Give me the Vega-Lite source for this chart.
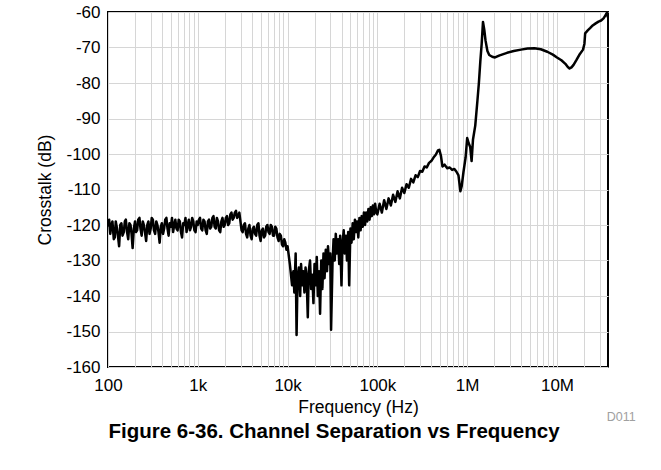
{
  "$schema": "https://vega.github.io/schema/vega-lite/v6.json",
  "width": 500,
  "height": 355,
  "autosize": {"type": "none"},
  "padding": {"left": 108, "top": 12, "right": 53, "bottom": 103},
  "background": "white",
  "config": {
    "font": "Liberation Sans",
    "view": {"stroke": "black", "strokeWidth": 2},
    "axis": {"gridColor": "#d6d6d6", "gridWidth": 1, "domain": false, "ticks": false, "labelColor": "black", "titleColor": "black", "labelFont": "Liberation Sans", "titleFont": "Liberation Sans", "titleFontWeight": "normal", "labelOverlap": false, "labelBound": false}
  },
  "title": {
    "text": "Figure 6-36. Channel Separation vs Frequency",
    "orient": "bottom",
    "anchor": "middle",
    "frame": "group",
    "fontSize": 20.5,
    "fontWeight": "bold",
    "font": "Liberation Sans",
    "color": "black",
    "dx": -24,
    "offset": -1
  },
  "data": {
    "values": [
      {"f": 100, "db": -120.5}, {"f": 103, "db": -118.5}, {"f": 106, "db": -122.5}, {"f": 109, "db": -120},
      {"f": 112, "db": -119}, {"f": 116, "db": -124}, {"f": 119, "db": -123.5}, {"f": 122, "db": -119},
      {"f": 126, "db": -121}, {"f": 129, "db": -123}, {"f": 133, "db": -126}, {"f": 137, "db": -120},
      {"f": 141, "db": -119.5}, {"f": 145, "db": -123}, {"f": 150, "db": -122}, {"f": 154, "db": -119},
      {"f": 158, "db": -118.5}, {"f": 163, "db": -122}, {"f": 168, "db": -124}, {"f": 173, "db": -119.5},
      {"f": 178, "db": -120}, {"f": 183, "db": -122.5}, {"f": 188, "db": -126.5}, {"f": 194, "db": -121},
      {"f": 200, "db": -119}, {"f": 205, "db": -122}, {"f": 211, "db": -121.5}, {"f": 217, "db": -118.5},
      {"f": 224, "db": -118}, {"f": 230, "db": -121}, {"f": 237, "db": -123}, {"f": 244, "db": -119},
      {"f": 251, "db": -120}, {"f": 258, "db": -122}, {"f": 266, "db": -124.5}, {"f": 274, "db": -120},
      {"f": 282, "db": -119}, {"f": 290, "db": -122.5}, {"f": 299, "db": -121}, {"f": 307, "db": -118},
      {"f": 316, "db": -118.5}, {"f": 325, "db": -121.5}, {"f": 335, "db": -122.5}, {"f": 345, "db": -119},
      {"f": 355, "db": -120}, {"f": 365, "db": -122}, {"f": 376, "db": -125}, {"f": 387, "db": -120.5},
      {"f": 398, "db": -119.5}, {"f": 410, "db": -122.5}, {"f": 422, "db": -121}, {"f": 434, "db": -118.5},
      {"f": 447, "db": -118}, {"f": 460, "db": -121}, {"f": 473, "db": -123}, {"f": 487, "db": -119.5},
      {"f": 501, "db": -120.5}, {"f": 516, "db": -118}, {"f": 531, "db": -122}, {"f": 546, "db": -120},
      {"f": 562, "db": -118.5}, {"f": 579, "db": -121}, {"f": 596, "db": -121.5}, {"f": 613, "db": -118.5},
      {"f": 631, "db": -119}, {"f": 649, "db": -122}, {"f": 668, "db": -123.5}, {"f": 688, "db": -119.5},
      {"f": 708, "db": -120}, {"f": 729, "db": -118}, {"f": 750, "db": -122}, {"f": 772, "db": -120},
      {"f": 794, "db": -118.5}, {"f": 818, "db": -121.5}, {"f": 841, "db": -120.5}, {"f": 866, "db": -118},
      {"f": 891, "db": -119}, {"f": 917, "db": -121.5}, {"f": 944, "db": -122}, {"f": 972, "db": -119},
      {"f": 1000, "db": -120}, {"f": 1029, "db": -118.5}, {"f": 1059, "db": -118}, {"f": 1090, "db": -121},
      {"f": 1122, "db": -121.5}, {"f": 1155, "db": -118.5}, {"f": 1189, "db": -119}, {"f": 1223, "db": -121.5},
      {"f": 1259, "db": -122.5}, {"f": 1296, "db": -119}, {"f": 1334, "db": -118.5}, {"f": 1372, "db": -121},
      {"f": 1413, "db": -120.5}, {"f": 1454, "db": -118}, {"f": 1496, "db": -117.5}, {"f": 1540, "db": -120.5},
      {"f": 1585, "db": -121}, {"f": 1631, "db": -118}, {"f": 1679, "db": -119}, {"f": 1728, "db": -121.5},
      {"f": 1778, "db": -122}, {"f": 1830, "db": -119}, {"f": 1884, "db": -118}, {"f": 1939, "db": -120.5},
      {"f": 1995, "db": -120}, {"f": 2053, "db": -118}, {"f": 2113, "db": -117.5}, {"f": 2175, "db": -120},
      {"f": 2239, "db": -119.5}, {"f": 2304, "db": -117}, {"f": 2371, "db": -116.5}, {"f": 2441, "db": -118.5},
      {"f": 2512, "db": -118}, {"f": 2585, "db": -116.5}, {"f": 2661, "db": -116}, {"f": 2738, "db": -118},
      {"f": 2818, "db": -117.5}, {"f": 2901, "db": -116.5}, {"f": 2985, "db": -119}, {"f": 3073, "db": -121.5},
      {"f": 3162, "db": -122}, {"f": 3255, "db": -120}, {"f": 3350, "db": -119.5}, {"f": 3447, "db": -122.5},
      {"f": 3548, "db": -123.5}, {"f": 3652, "db": -121}, {"f": 3758, "db": -120}, {"f": 3868, "db": -123},
      {"f": 3981, "db": -124}, {"f": 4097, "db": -121}, {"f": 4217, "db": -120.5}, {"f": 4340, "db": -122.5},
      {"f": 4467, "db": -123}, {"f": 4597, "db": -120}, {"f": 4732, "db": -119.5}, {"f": 4870, "db": -123},
      {"f": 5012, "db": -124.5}, {"f": 5158, "db": -121.5}, {"f": 5309, "db": -121}, {"f": 5464, "db": -123.5},
      {"f": 5623, "db": -123}, {"f": 5788, "db": -120.5}, {"f": 5957, "db": -120}, {"f": 6131, "db": -122},
      {"f": 6310, "db": -122.5}, {"f": 6494, "db": -120}, {"f": 6683, "db": -120.5}, {"f": 6879, "db": -123},
      {"f": 7079, "db": -123}, {"f": 7286, "db": -120.5}, {"f": 7499, "db": -121}, {"f": 7718, "db": -123.5},
      {"f": 7943, "db": -124.5}, {"f": 8175, "db": -122.5}, {"f": 8414, "db": -123}, {"f": 8660, "db": -125.5},
      {"f": 8913, "db": -126}, {"f": 9173, "db": -124}, {"f": 9441, "db": -125}, {"f": 9716, "db": -127},
      {"f": 10000, "db": -126}, {"f": 10593, "db": -131}, {"f": 11220, "db": -137}, {"f": 11600, "db": -133},
      {"f": 11885, "db": -139}, {"f": 12300, "db": -128}, {"f": 12589, "db": -151}, {"f": 12900, "db": -135},
      {"f": 13335, "db": -132}, {"f": 13800, "db": -140}, {"f": 14125, "db": -131}, {"f": 14600, "db": -137},
      {"f": 14962, "db": -133}, {"f": 15400, "db": -139}, {"f": 15849, "db": -132}, {"f": 16300, "db": -135},
      {"f": 16788, "db": -146}, {"f": 17200, "db": -133}, {"f": 17783, "db": -130}, {"f": 18300, "db": -138},
      {"f": 18836, "db": -134}, {"f": 19400, "db": -142}, {"f": 19953, "db": -131}, {"f": 20500, "db": -137},
      {"f": 21135, "db": -129}, {"f": 21700, "db": -140}, {"f": 22387, "db": -133}, {"f": 23000, "db": -145},
      {"f": 23714, "db": -130}, {"f": 24400, "db": -138}, {"f": 25119, "db": -128}, {"f": 25800, "db": -135},
      {"f": 26607, "db": -127}, {"f": 27500, "db": -133}, {"f": 28184, "db": -126}, {"f": 29000, "db": -131},
      {"f": 29854, "db": -128}, {"f": 30500, "db": -149.5}, {"f": 31623, "db": -131}, {"f": 32500, "db": -124},
      {"f": 33497, "db": -130}, {"f": 34400, "db": -122.5}, {"f": 35481, "db": -128}, {"f": 36500, "db": -124},
      {"f": 37584, "db": -131}, {"f": 38500, "db": -123}, {"f": 39811, "db": -137}, {"f": 40900, "db": -125},
      {"f": 42170, "db": -121.5}, {"f": 43300, "db": -128}, {"f": 44668, "db": -123}, {"f": 45800, "db": -130},
      {"f": 47315, "db": -122}, {"f": 48500, "db": -137}, {"f": 50119, "db": -121}, {"f": 51500, "db": -125},
      {"f": 53088, "db": -119.5}, {"f": 54600, "db": -124}, {"f": 56234, "db": -118.5}, {"f": 57900, "db": -122},
      {"f": 59566, "db": -119}, {"f": 61300, "db": -123.5}, {"f": 63096, "db": -118}, {"f": 65000, "db": -121.5},
      {"f": 66834, "db": -117.5}, {"f": 68800, "db": -120.5}, {"f": 70795, "db": -116.5}, {"f": 72900, "db": -120},
      {"f": 74989, "db": -116.5}, {"f": 77200, "db": -119}, {"f": 79433, "db": -115.5}, {"f": 81800, "db": -118.5},
      {"f": 84140, "db": -115}, {"f": 86600, "db": -117.5}, {"f": 89125, "db": -114.5}, {"f": 91700, "db": -117},
      {"f": 94406, "db": -114}, {"f": 97200, "db": -116.5},
      {"f": 100000, "db": -117}, {"f": 105925, "db": -114}, {"f": 112202, "db": -116.5}, {"f": 118850, "db": -113},
      {"f": 125893, "db": -115.5}, {"f": 133352, "db": -112.5}, {"f": 141254, "db": -114.5}, {"f": 149624, "db": -111.5},
      {"f": 158489, "db": -113.5}, {"f": 167880, "db": -110.5}, {"f": 177828, "db": -112.5}, {"f": 188365, "db": -109.5},
      {"f": 199526, "db": -111}, {"f": 211349, "db": -108.5}, {"f": 223872, "db": -109.5}, {"f": 237137, "db": -107},
      {"f": 251189, "db": -108}, {"f": 266073, "db": -106}, {"f": 281838, "db": -106.5}, {"f": 298538, "db": -104.8},
      {"f": 316228, "db": -105}, {"f": 334965, "db": -103.5}, {"f": 354813, "db": -103.8}, {"f": 375837, "db": -102.5},
      {"f": 398107, "db": -102}, {"f": 421697, "db": -101}, {"f": 446684, "db": -100.2}, {"f": 473151, "db": -99},
      {"f": 490000, "db": -98.8}, {"f": 510000, "db": -100.5}, {"f": 530000, "db": -103.5}, {"f": 560000, "db": -103},
      {"f": 600000, "db": -104}, {"f": 640000, "db": -103.8}, {"f": 680000, "db": -104.5}, {"f": 720000, "db": -104.2},
      {"f": 760000, "db": -105}, {"f": 800000, "db": -106}, {"f": 840000, "db": -110.5}, {"f": 870000, "db": -109},
      {"f": 910000, "db": -105}, {"f": 960000, "db": -101}, {"f": 1000000, "db": -95.5}, {"f": 1040000, "db": -97},
      {"f": 1080000, "db": -98}, {"f": 1120000, "db": -102}, {"f": 1160000, "db": -96}, {"f": 1230000, "db": -92},
      {"f": 1300000, "db": -85}, {"f": 1350000, "db": -80}, {"f": 1400000, "db": -74}, {"f": 1450000, "db": -69},
      {"f": 1500000, "db": -62.8}, {"f": 1550000, "db": -65}, {"f": 1600000, "db": -68}, {"f": 1680000, "db": -71},
      {"f": 1760000, "db": -72.1}, {"f": 1900000, "db": -72.6}, {"f": 2040000, "db": -72.8}, {"f": 2300000, "db": -72.2},
      {"f": 2780000, "db": -71.5}, {"f": 3300000, "db": -71}, {"f": 3980000, "db": -70.6}, {"f": 4700000, "db": -70.3},
      {"f": 5600000, "db": -70.2}, {"f": 6600000, "db": -70.5}, {"f": 7800000, "db": -71.2}, {"f": 9000000, "db": -72},
      {"f": 10000000, "db": -72.8}, {"f": 11200000, "db": -73.6}, {"f": 12400000, "db": -74.6}, {"f": 13200000, "db": -75.5},
      {"f": 13800000, "db": -75.9}, {"f": 14500000, "db": -75.6}, {"f": 15300000, "db": -74.9}, {"f": 16500000, "db": -73.5},
      {"f": 18000000, "db": -71.8}, {"f": 19500000, "db": -70.6}, {"f": 20200000, "db": -69}, {"f": 20600000, "db": -66},
      {"f": 22000000, "db": -65.2}, {"f": 23500000, "db": -64.5}, {"f": 25000000, "db": -63.8}, {"f": 27000000, "db": -63.2},
      {"f": 29000000, "db": -62.7}, {"f": 31000000, "db": -62.4}, {"f": 33000000, "db": -61.8}, {"f": 34500000, "db": -61},
      {"f": 35500000, "db": -60.5}, {"f": 36300000, "db": -60}, {"f": 36800000, "db": -61.5}
    ]
  },
  "layer": [
    {
      "mark": {"type": "line", "color": "black", "strokeWidth": 2.5, "strokeJoin": "round", "clip": true},
      "encoding": {
        "x": {
          "field": "f", "type": "quantitative",
          "scale": {"type": "log", "domain": [100, 37000000], "nice": false},
          "axis": {
            "title": "Frequency (Hz)",
            "titleFontSize": 17.5,
            "titleY": 45,
            "titleBaseline": "alphabetic",
            "labelFontSize": 17,
            "labelPadding": 10,
            "labelFlush": false,
            "tickCount": 100,
            "values": [100,200,300,400,500,600,700,800,900,1000,2000,3000,4000,5000,6000,7000,8000,9000,10000,20000,30000,40000,50000,60000,70000,80000,90000,100000,200000,300000,400000,500000,600000,700000,800000,900000,1000000,2000000,3000000,4000000,5000000,6000000,7000000,8000000,9000000,10000000,20000000,30000000],
            "labelExpr": "datum.value == 100 ? '100' : datum.value == 1000 ? '1k' : datum.value == 10000 ? '10k' : datum.value == 100000 ? '100k' : datum.value == 1000000 ? '1M' : datum.value == 10000000 ? '10M' : ''"
          }
        },
        "y": {
          "field": "db", "type": "quantitative",
          "scale": {"domain": [-160, -60], "nice": false},
          "axis": {
            "title": "Crosstalk (dB)",
            "titleFontSize": 17.5,
            "titleX": -58,
            "titleY": 177.5,
            "titleAngle": -90,
            "titleAlign": "center",
            "titleBaseline": "alphabetic",
            "labelFontSize": 17,
            "labelPadding": 8,
            "tickCount": 100,
            "values": [-160,-150,-140,-130,-120,-110,-100,-90,-80,-70,-60],
            "labelExpr": "'' + datum.value"
          }
        }
      }
    },
    {
      "data": {"values": [{"label": "D011"}]},
      "mark": {"type": "text", "fontSize": 12.5, "fontWeight": "normal", "color": "#a0a0a0", "align": "right", "baseline": "alphabetic", "font": "Liberation Sans"},
      "encoding": {
        "text": {"field": "label"},
        "x": {"datum": 75400000, "type": "quantitative"},
        "y": {"datum": -175.2, "type": "quantitative"}
      }
    }
  ]
}
